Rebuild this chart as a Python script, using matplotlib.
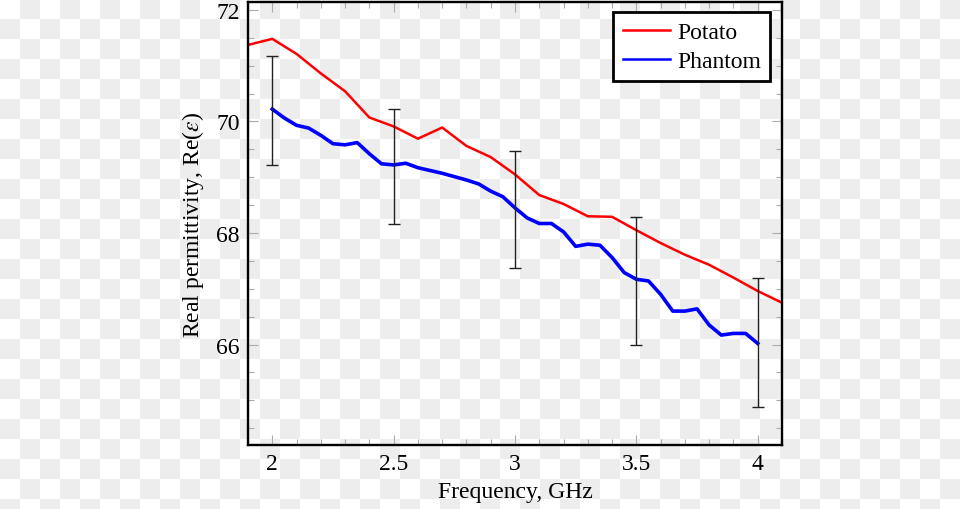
import numpy as np
import matplotlib
matplotlib.use("Agg")
import matplotlib.pyplot as plt
from matplotlib.ticker import MultipleLocator

# potato reference curve, every 0.1 GHz
potato_f = [1.9, 2.0, 2.1, 2.2, 2.3, 2.4, 2.5, 2.6, 2.7, 2.8, 2.9, 3.0,
            3.1, 3.2, 3.3, 3.4, 3.5, 3.6, 3.7, 3.8, 3.9, 4.0, 4.1]
potato_eps = [71.37, 71.48, 71.21, 70.86, 70.54, 70.07, 69.91, 69.69, 69.89,
              69.56, 69.36, 69.05, 68.68, 68.52, 68.30, 68.29, 68.05, 67.82,
              67.61, 67.43, 67.20, 66.96, 66.75]

phantom_f = [2.00, 2.05, 2.10, 2.15, 2.20, 2.25, 2.30, 2.35, 2.40, 2.45,
             2.50, 2.55, 2.60, 2.65, 2.70, 2.75, 2.80, 2.85, 2.90, 2.95,
             3.00, 3.05, 3.10, 3.15, 3.20, 3.25, 3.30, 3.35, 3.40, 3.45,
             3.50, 3.55, 3.60, 3.65, 3.70, 3.75, 3.80, 3.85, 3.90, 3.95, 4.00]
phantom_eps = [70.22, 70.06, 69.93, 69.88, 69.75, 69.60, 69.58, 69.62, 69.42, 69.24,
               69.22, 69.25, 69.17, 69.12, 69.07, 69.01, 68.95, 68.88, 68.75, 68.65,
               68.45, 68.27, 68.17, 68.17, 68.02, 67.76, 67.80, 67.78, 67.56, 67.29,
               67.17, 67.14, 66.90, 66.60, 66.60, 66.64, 66.35, 66.17, 66.20, 66.20, 66.02]

# error bars
err_f = [2.0, 2.5, 3.0, 3.5, 4.0]
err_mid = [70.20, 69.20, 68.42, 67.14, 66.04]
err_half = [0.98, 1.03, 1.05, 1.15, 1.16]

plt.rcParams["font.family"] = ["Liberation Serif", "DejaVu Serif"]
plt.rcParams["mathtext.fontset"] = "stix"

fig = plt.figure(figsize=(9.6, 5.1), dpi=100)

# transparent-png style checkerboard behind everything
rows, cols = np.indices((510, 960))
board = np.where(((rows // 20) + (cols // 20)) % 2 == 0, 1.0, 0.933)
fig.figimage(np.dstack([board] * 3), xo=0, yo=0, origin="upper", zorder=-10)

ax = fig.add_axes([248 / 960, 64 / 510, 534 / 960, 443 / 510], zorder=5)
ax.patch.set_alpha(0)

ax.plot(potato_f, potato_eps, color="#ff0000", lw=1.8, label="Potato")
ax.plot(phantom_f, phantom_eps, color="#0000ff", lw=2.6, label="Phantom")
ax.errorbar(err_f, err_mid, yerr=err_half, fmt="none", ecolor="#222222",
            elinewidth=1.0, capsize=4, capthick=1.0)

ax.set_xlim(1.9, 4.1)
ax.set_ylim(64.2, 72.14)
ax.xaxis.set_minor_locator(MultipleLocator(0.1))
ax.yaxis.set_minor_locator(MultipleLocator(0.5))
ax.set_xticks([2, 2.5, 3, 3.5, 4])
ax.set_xticklabels(["2", "2.5", "3", "3.5", "4"])
ax.set_yticks([66, 68, 70, 72])
ax.tick_params(which="both", direction="in", top=True, right=True,
               color="#aaaaaa", width=0.8, labelsize=17)
ax.tick_params(which="major", length=7, pad=6)
ax.tick_params(which="minor", length=4.5)
for s in ax.spines.values():
    s.set_linewidth(1.7)
    s.set_color("black")

ax.set_xlabel("Frequency, GHz", fontsize=17, labelpad=5)
ax.set_ylabel(r"Real permittivity, Re($\varepsilon$)", fontsize=17, labelpad=7)

leg = ax.legend(loc="upper right", fontsize=17, frameon=True, fancybox=False,
                framealpha=1, edgecolor="black", handlelength=2.0,
                handletextpad=0.3, borderpad=0.4, labelspacing=0.3,
                borderaxespad=0, bbox_to_anchor=(0.978, 0.977))
leg.get_frame().set_linewidth(2.0)
for line in leg.get_lines():
    line.set_linewidth(1.8)

fig.savefig("out.png", dpi=100)
